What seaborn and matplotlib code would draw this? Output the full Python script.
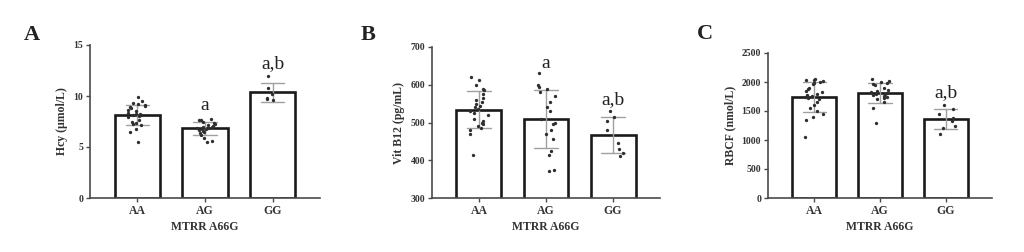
import numpy as np
import pandas as pd
import matplotlib
matplotlib.use("Agg")
import matplotlib.pyplot as plt
import seaborn as sns

genotypes = ["AA", "AG", "GG"]

hcy_AA = [9.9, 9.5, 9.3, 9.2, 9.1, 9.0, 8.9, 8.8, 8.6, 8.5, 8.3, 8.2, 8.2, 8.1, 8.1,
          8.0, 7.9, 7.6, 7.5, 7.4, 7.3, 7.2, 6.8, 6.5, 5.5]
hcy_AG = [7.7, 7.6, 7.6, 7.5, 7.4, 7.3, 7.2, 7.1, 7.0, 7.0, 6.9, 6.9, 6.8, 6.8, 6.7,
          6.6, 6.5, 6.4, 6.2, 5.9, 5.6, 5.5]
hcy_GG = [12.0, 10.8, 10.2, 9.8, 9.7, 9.6]

b12_AA = [620, 612, 600, 590, 585, 575, 565, 560, 555, 550, 545, 540, 535, 530, 525,
          520, 510, 505, 500, 495, 490, 485, 480, 470, 415]
b12_AG = [630, 600, 595, 590, 580, 570, 555, 540, 530, 510, 500, 495, 480, 470, 455,
          425, 415, 375, 372]
b12_GG = [530, 515, 505, 480, 445, 430, 420, 410]

rbcf_AA = [2050, 2040, 2030, 2020, 2000, 1990, 1960, 1900, 1880, 1850, 1820, 1800, 1780,
           1760, 1740, 1720, 1700, 1650, 1600, 1550, 1500, 1450, 1400, 1350, 1050]
rbcf_AG = [2050, 2010, 2000, 1980, 1960, 1940, 1900, 1870, 1850, 1830, 1810, 1800, 1790,
           1780, 1760, 1740, 1720, 1700, 1650, 1550, 1300]
rbcf_GG = [1600, 1540, 1450, 1380, 1320, 1250, 1200, 1100]

panel_letters = ["A", "B", "C"]
y_labels = ["Hcy (μmol/L)", "Vit B12 (pg/mL)", "RBCF (nmol/L)"]
x_label = "MTRR A66G"
y_ticks = [[0, 5, 10, 15], [300, 400, 500, 600, 700], [0, 500, 1000, 1500, 2000, 2500]]
sig_labels = [["", "a", "a,b"], ["", "a", "a,b"], ["", "", "a,b"]]

datasets = [[hcy_AA, hcy_AG, hcy_GG], [b12_AA, b12_AG, b12_GG], [rbcf_AA, rbcf_AG, rbcf_GG]]

sns.set_theme(style="ticks")
plt.rcParams["font.family"] = ["Liberation Serif", "DejaVu Serif"]
np.random.seed(3)

fig = plt.figure(figsize=(10.24, 2.52), dpi=100)
W, H = 1024, 252
rects = [(90, 320, 45), (432, 660, 47), (768, 992, 53)]
bottom_px = 198
letter_pos = [(24, 35), (361, 35), (697, 34)]
sig_y = [[None, 9.1, 13.2], [None, 657, 560], [None, None, 1810]]

axis_col = "#4a4a4a"
text_col = "#333333"

for i in range(3):
    l, r, t = rects[i]
    ax = fig.add_axes([l / W, 1 - bottom_px / H, (r - l) / W, (bottom_px - t) / H])
    rows = []
    for g, vals in zip(genotypes, datasets[i]):
        for v in vals:
            rows.append((g, v))
    df = pd.DataFrame(rows, columns=["genotype", "value"])
    sns.barplot(data=df, x="genotype", y="value", order=genotypes, errorbar="sd",
                width=0.67, color="white", edgecolor="#1a1a1a", linewidth=1.9,
                capsize=0.35, err_kws={"color": "#a0a0a0", "linewidth": 1.0},
                ax=ax, zorder=1)
    sns.stripplot(data=df, x="genotype", y="value", order=genotypes, color="#2e2e2e",
                  size=2.4, jitter=0.15, ax=ax, zorder=3)
    ax.set_xlim(-0.7, 2.7)
    yt = y_ticks[i]
    ax.set_ylim(yt[0], yt[-1])
    ax.set_yticks(yt)
    ax.set_yticklabels([str(v) for v in yt])
    sns.despine(ax=ax)
    for s in ["left", "bottom"]:
        ax.spines[s].set_color(axis_col)
        ax.spines[s].set_linewidth(1.2)
    ax.tick_params(axis="both", colors=axis_col, length=3, width=1.0, pad=2)
    for lab in ax.get_yticklabels():
        lab.set_fontsize(7)
        lab.set_fontweight("bold")
        lab.set_color(text_col)
    for lab in ax.get_xticklabels():
        lab.set_fontsize(8.5)
        lab.set_fontweight("bold")
        lab.set_color(text_col)
    ax.set_xlabel(x_label, fontsize=8.5, fontweight="bold", color=text_col, labelpad=3)
    ax.set_ylabel(y_labels[i], fontsize=8.5, fontweight="bold", color=text_col, labelpad=4)
    for j, s in enumerate(sig_labels[i]):
        if s:
            ax.text(j, sig_y[i][j], s, ha="center", va="center", fontsize=14,
                    color="#222222")
    lx, ly = letter_pos[i]
    fig.text(lx / W, 1 - ly / H, panel_letters[i], fontsize=16, fontweight="bold",
             color="#222222", ha="left", va="center")

fig.savefig("out.png", dpi=100, facecolor="white")
